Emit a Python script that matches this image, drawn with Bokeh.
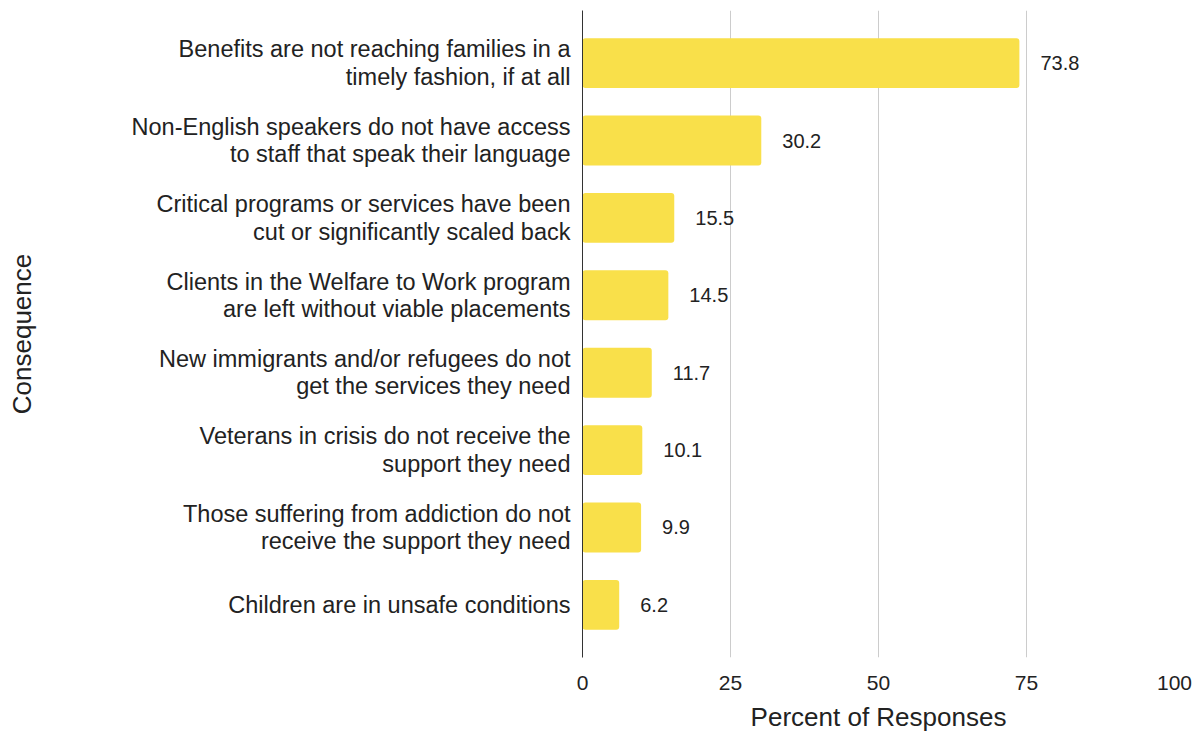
from bokeh.plotting import figure
from bokeh.models import FactorRange, ColumnDataSource, Range1d, FixedTicker
from bokeh.embed import file_html
from bokeh.resources import INLINE

categories = [
    "Benefits are not reaching families in a\ntimely fashion, if at all",
    "Non-English speakers do not have access\nto staff that speak their language",
    "Critical programs or services have been\ncut or significantly scaled back",
    "Clients in the Welfare to Work program\nare left without viable placements",
    "New immigrants and/or refugees do not\nget the services they need",
    "Veterans in crisis do not receive the\nsupport they need",
    "Those suffering from addiction do not\nreceive the support they need",
    "Children are in unsafe conditions",
]
values = [73.8, 30.2, 15.5, 14.5, 11.7, 10.1, 9.9, 6.2]
x_ticks = [0, 25, 50, 75, 100]

FONT = "Liberation Sans"

src = ColumnDataSource(dict(
    cat=categories,
    val=values,
    lab=[f"{v:.1f}" for v in values],
))

yr = FactorRange(factors=list(reversed(categories)), range_padding=0.18,
                 range_padding_units="absolute")

p = figure(width=1204, height=734, y_range=yr, x_range=Range1d(0, 100),
           output_backend="svg", toolbar_location=None,
           min_border_left=582, min_border_right=30, min_border_top=10,
           min_border_bottom=76)
p.outline_line_color = None

p.hbar(y="cat", right="val", height=0.645, source=src, color="#F9E04A",
       line_color=None, border_radius=3)
p.text(x="val", y="cat", text="lab", source=src, x_offset=21,
       text_baseline="middle", text_align="left", text_font_size="20px",
       text_color="#222222", text_font={"value": FONT})

p.xaxis.ticker = FixedTicker(ticks=x_ticks)
p.xaxis.axis_line_color = None
p.xaxis.major_tick_line_color = None
p.xaxis.minor_tick_line_color = None
p.xaxis.major_label_text_font_size = "21px"
p.xaxis.major_label_text_font = FONT
p.xaxis.major_label_text_line_height = 1.0
p.xaxis.major_label_text_color = "#222222"
p.xaxis.major_label_standoff = 12
p.xaxis.axis_label = "Percent of Responses"
p.xaxis.axis_label_text_font_size = "26px"
p.xaxis.axis_label_text_font = FONT
p.xaxis.axis_label_text_line_height = 1.0
p.xaxis.axis_label_text_font_style = "normal"
p.xaxis.axis_label_text_color = "#222222"
p.xaxis.axis_label_standoff = 9

p.yaxis.axis_line_color = "#333333"
p.yaxis.axis_line_width = 1
p.yaxis.major_tick_line_color = None
p.yaxis.minor_tick_line_color = None
p.yaxis.major_label_text_font_size = "23.5px"
p.yaxis.major_label_text_font = FONT
p.yaxis.major_label_text_line_height = 1.05
p.yaxis.major_label_text_color = "#222222"
p.yaxis.major_label_standoff = 6
p.yaxis.axis_label = "Consequence"
p.yaxis.axis_label_text_font_size = "26px"
p.yaxis.axis_label_text_font = FONT
p.yaxis.axis_label_text_font_style = "normal"
p.yaxis.axis_label_text_color = "#222222"
p.yaxis.axis_label_standoff = 92

p.ygrid.grid_line_color = None
p.xgrid.grid_line_color = "#CCCCCC"
p.xgrid.grid_line_width = 1

open("out.html", "w").write(file_html(p, INLINE))
